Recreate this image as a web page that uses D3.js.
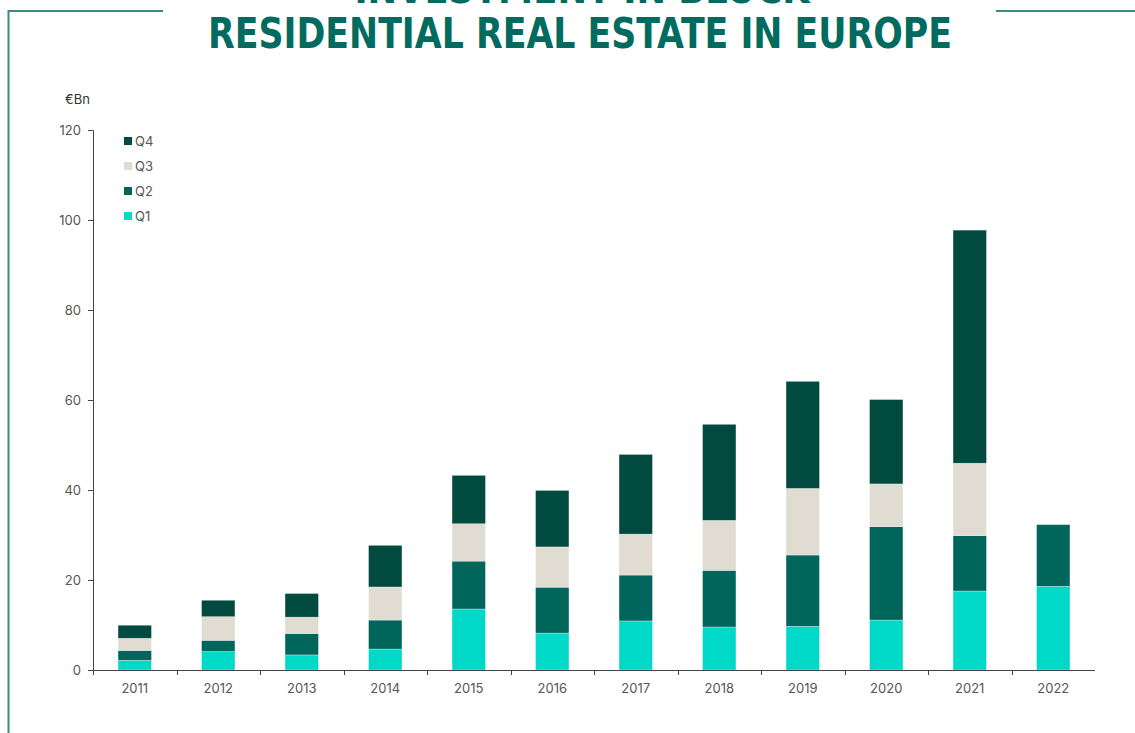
<!DOCTYPE html>
<html>
<head>
<meta charset="utf-8">
<script src="https://cdn.jsdelivr.net/npm/d3@7"></script>
<style>
  body { margin: 0; background: #fff; }
  svg { display: block; font-family: Inter, "Open Sans", sans-serif; }
</style>
</head>
<body>
<div id="chart"></div>
<script>
var width = 1135;
var height = 733;

// data, €Bn per quarter
var years = ["2011", "2012", "2013", "2014", "2015", "2016", "2017", "2018", "2019", "2020", "2021", "2022"];
var q1 = [2.15, 4.1, 3.35, 4.65, 13.55, 8.2, 10.9, 9.55, 9.7, 11.1, 17.55, 18.6];
var q2 = [2.2, 2.5, 4.75, 6.45, 10.65, 10.2, 10.2, 12.6, 15.85, 20.75, 12.3, 13.7];
var q3 = [2.7, 5.25, 3.65, 7.35, 8.3, 8.95, 9.1, 11.1, 14.8, 9.5, 16.1, 0];
var q4 = [2.9, 3.65, 5.25, 9.25, 10.75, 12.55, 17.7, 21.35, 23.8, 18.75, 51.8, 0];
var quarters = ["Q1", "Q2", "Q3", "Q4"];
var colors = ["#00d8c8", "#00665c", "#e0dcd2", "#004a40"];
var yTicks = [0, 20, 40, 60, 80, 100, 120];

var rows = years.map(function(y, i) {
  return { year: y, Q1: q1[i], Q2: q2[i], Q3: q3[i], Q4: q4[i] };
});
var series = d3.stack().keys(quarters)(rows);

var svg = d3.select("#chart")
  .append("svg")
  .attr("width", width)
  .attr("height", height);

// frame lines around the title
var frameColor = "#3a8c80";
svg.append("path")
  .attr("d", "M8.5,733 V11 H163")
  .attr("fill", "none")
  .attr("stroke", frameColor)
  .attr("stroke-width", 2);
svg.append("line")
  .attr("x1", 996).attr("x2", 1135)
  .attr("y1", 11).attr("y2", 11)
  .attr("stroke", frameColor)
  .attr("stroke-width", 2);

// title (first line cut off at top)
var titleColor = "#006b5e";
svg.append("text")
  .attr("x", 582).attr("y", 3)
  .attr("text-anchor", "middle")
  .attr("font-family", "'DejaVu Sans Condensed', 'DejaVu Sans', sans-serif")
  .attr("font-weight", "bold")
  .attr("font-size", 42)
  .attr("fill", titleColor)
  .attr("textLength", 455)
  .attr("lengthAdjust", "spacingAndGlyphs")
  .text("INVESTMENT IN BLOCK");
svg.append("text")
  .attr("x", 580).attr("y", 48)
  .attr("text-anchor", "middle")
  .attr("font-family", "'DejaVu Sans Condensed', 'DejaVu Sans', sans-serif")
  .attr("font-weight", "bold")
  .attr("font-size", 42)
  .attr("fill", titleColor)
  .attr("textLength", 744)
  .attr("lengthAdjust", "spacingAndGlyphs")
  .text("RESIDENTIAL REAL ESTATE IN EUROPE");

var x = d3.scaleBand()
  .domain(years)
  .range([93, 1095])
  .paddingInner(0.6)
  .paddingOuter(0.3);

var y = d3.scaleLinear()
  .domain([0, 120])
  .range([670, 130]);

// bars
svg.append("g")
  .selectAll("g")
  .data(series)
  .enter()
  .append("g")
  .attr("fill", function(d, i) { return colors[i]; })
  .selectAll("rect")
  .data(function(d) { return d; })
  .enter()
  .append("rect")
  .attr("x", function(d) { return x(d.data.year); })
  .attr("y", function(d) { return y(d[1]); })
  .attr("width", x.bandwidth())
  .attr("height", function(d) { return y(d[0]) - y(d[1]); })
  .attr("stroke", "rgba(255,255,255,0.5)")
  .attr("stroke-width", 0.6);

var axisColor = "#444";
var labelColor = "#555";

// y axis
var yAxis = svg.append("g")
  .attr("transform", "translate(93,0)")
  .call(d3.axisLeft(y).tickValues(yTicks).tickSize(5).tickPadding(7));
yAxis.select(".domain").attr("stroke", axisColor);
yAxis.selectAll(".tick line").attr("stroke", axisColor);
yAxis.selectAll("text")
  .attr("fill", labelColor)
  .attr("font-size", 13)
  .attr("font-family", "Inter, 'Open Sans', sans-serif");

// x axis: ticks at band boundaries
var step = x.step();
var boundaries = years.map(function(yr, i) { return 93 + i * step; });
var xAxisG = svg.append("g");
xAxisG.append("line")
  .attr("x1", 93).attr("x2", 1095)
  .attr("y1", 670.5).attr("y2", 670.5)
  .attr("stroke", axisColor);
xAxisG.selectAll(".xt")
  .data(boundaries)
  .enter()
  .append("line")
  .attr("x1", function(d) { return Math.round(d) + 0.5; })
  .attr("x2", function(d) { return Math.round(d) + 0.5; })
  .attr("y1", 670).attr("y2", 675)
  .attr("stroke", axisColor);
xAxisG.selectAll(".xl")
  .data(years)
  .enter()
  .append("text")
  .attr("x", function(d) { return x(d) + x.bandwidth() / 2; })
  .attr("y", 693)
  .attr("text-anchor", "middle")
  .attr("fill", labelColor)
  .attr("font-size", 13)
  .text(function(d) { return d; });

// unit label
svg.append("text")
  .attr("x", 65).attr("y", 104)
  .attr("fill", "#333")
  .attr("font-size", 13)
  .text("€Bn");

// legend, Q4 on top
var legendKeys = quarters.slice().reverse();
var legend = svg.append("g")
  .selectAll("g")
  .data(legendKeys)
  .enter()
  .append("g")
  .attr("transform", function(d, i) { return "translate(124," + (137 + i * 25) + ")"; });
legend.append("rect")
  .attr("width", 8).attr("height", 8)
  .attr("fill", function(d) { return colors[quarters.indexOf(d)]; });
legend.append("text")
  .attr("x", 11).attr("y", 9)
  .attr("fill", labelColor)
  .attr("font-size", 13)
  .text(function(d) { return d; });
</script>
</body>
</html>
